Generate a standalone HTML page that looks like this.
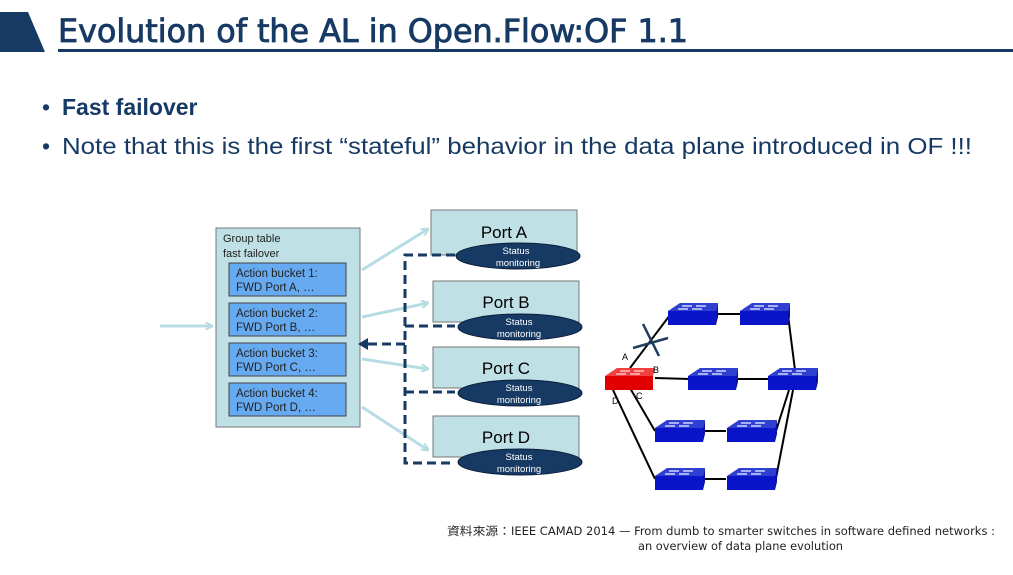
<!DOCTYPE html>
<html><head><meta charset="utf-8"><style>
body{margin:0;width:1013px;height:570px;background:#fff;overflow:hidden;font-family:"Liberation Sans",sans-serif}
</style></head><body>
<svg width="1013" height="570" xmlns="http://www.w3.org/2000/svg" font-family="Liberation Sans, sans-serif">
<defs>
<marker id="la" markerWidth="8" markerHeight="8" refX="7" refY="4" orient="auto" markerUnits="userSpaceOnUse"><path d="M0,0 L8,4 L0,8" fill="none" stroke="#b7dde4" stroke-width="2"/></marker>
<g id="sw"><polygon points="0,8 12,0 50,0 48,8" fill="#2f3fd0"/><rect x="0" y="8" width="48" height="14" fill="#0a14c8"/><polygon points="48,8 50,0 50,14 48,22" fill="#0a10a0"/><path d="M14,3 h10 M28,3 h10 M10,6 h10 M24,6 h10" stroke="#cfd6ff" stroke-width="1.5"/></g>
</defs>
<polygon points="0,12 28,12 45,52 0,52" fill="#173a64"/>
<text x="58" y="42" font-size="32" font-family="DejaVu Sans Condensed, Liberation Sans Narrow, sans-serif" fill="#173a64" stroke="#173a64" stroke-width="0.8" textLength="630" lengthAdjust="spacingAndGlyphs">Evolution of the AL in Open.Flow:OF 1.1</text>
<rect x="58" y="49" width="955" height="3" fill="#173a64"/>
<text x="42" y="115" font-size="23" fill="#173a64">•</text>
<text x="62" y="115" font-size="23" fill="#173a64" font-weight="bold">Fast failover</text>
<text x="42" y="154" font-size="23" fill="#173a64">•</text>
<text x="62" y="154" font-size="23" fill="#173a64" textLength="910" lengthAdjust="spacingAndGlyphs">Note that this is the first “stateful” behavior in the data plane introduced in OF !!!</text>
<rect x="216" y="228" width="144" height="199" fill="#bfe0e4" stroke="#777"/>
<text x="223" y="242" font-size="11" fill="#222">Group table</text>
<text x="223" y="257" font-size="11" fill="#222">fast failover</text>
<g font-size="11.5" fill="#222">
<rect x="229" y="263" width="117" height="33" fill="#66aaf2" stroke="#444"/><text x="236" y="277">Action bucket 1:</text><text x="236" y="291">FWD Port A, …</text>
<rect x="229" y="303" width="117" height="33" fill="#66aaf2" stroke="#444"/><text x="236" y="317">Action bucket 2:</text><text x="236" y="331">FWD Port B, …</text>
<rect x="229" y="343" width="117" height="33" fill="#66aaf2" stroke="#444"/><text x="236" y="357">Action bucket 3:</text><text x="236" y="371">FWD Port C, …</text>
<rect x="229" y="383" width="117" height="33" fill="#66aaf2" stroke="#444"/><text x="236" y="397">Action bucket 4:</text><text x="236" y="411">FWD Port D, …</text>
</g>
<g stroke="#b7dde4" stroke-width="3" fill="none" marker-end="url(#la)">
<line x1="160" y1="326" x2="212" y2="326"/>
<line x1="362" y1="270" x2="428" y2="229"/>
<line x1="362" y1="317" x2="428" y2="303"/>
<line x1="362" y1="359" x2="428" y2="369"/>
<line x1="362" y1="407" x2="428" y2="450"/>
</g>
<g fill="#bfe0e4" stroke="#777">
<rect x="431" y="210" width="146" height="45"/>
<rect x="433" y="281" width="146" height="41"/>
<rect x="433" y="347" width="146" height="41"/>
<rect x="433" y="416" width="146" height="41"/>
</g>
<g font-size="17" fill="#000" text-anchor="middle">
<text x="504" y="238">Port A</text><text x="506" y="308">Port B</text><text x="506" y="374">Port C</text><text x="506" y="443">Port D</text>
</g>
<g stroke="#173a64" stroke-width="3" stroke-dasharray="9,5" fill="none">
<path d="M455,255 H405 V463 H455"/>
<path d="M405,326 H455 M405,392 H455 M405,344 H366"/>
</g>
<polygon points="358,344 368,338 368,350" fill="#173a64"/>
<g fill="#173a64" stroke="#0b1e3a">
<ellipse cx="518" cy="256" rx="62" ry="13"/><ellipse cx="520" cy="327" rx="62" ry="13"/><ellipse cx="520" cy="393" rx="62" ry="13"/><ellipse cx="520" cy="462" rx="62" ry="13"/>
</g>
<g font-size="9.5" fill="#fff" text-anchor="middle">
<text x="516" y="254">Status</text><text x="518" y="266">monitoring</text>
<text x="519" y="325">Status</text><text x="519" y="337">monitoring</text>
<text x="519" y="391">Status</text><text x="519" y="403">monitoring</text>
<text x="519" y="460">Status</text><text x="519" y="472">monitoring</text>
</g>
<g stroke="#000" stroke-width="2" fill="none">
<line x1="630" y1="368" x2="670" y2="315"/>
<line x1="715" y1="314" x2="740" y2="314"/>
<line x1="788" y1="315" x2="795" y2="370"/>
<line x1="655" y1="378" x2="690" y2="379"/>
<line x1="737" y1="379" x2="770" y2="379"/>
<line x1="630" y1="388" x2="655" y2="431"/>
<line x1="613" y1="390" x2="655" y2="479"/>
<line x1="705" y1="431" x2="726" y2="431"/>
<line x1="705" y1="479" x2="726" y2="479"/>
<line x1="776" y1="431" x2="789" y2="390"/>
<line x1="776" y1="478" x2="793" y2="390"/>
</g>
<g transform="translate(668,303)"><use href="#sw"/></g>
<g transform="translate(740,303)"><use href="#sw"/></g>
<g transform="translate(688,368)"><use href="#sw"/></g>
<g transform="translate(768,368)"><use href="#sw"/></g>
<g transform="translate(655,420)"><use href="#sw"/></g>
<g transform="translate(727,420)"><use href="#sw"/></g>
<g transform="translate(655,468)"><use href="#sw"/></g>
<g transform="translate(727,468)"><use href="#sw"/></g>
<polygon points="605,376 617,368 655,368 653,376" fill="#f04040"/><rect x="605" y="376" width="48" height="14" fill="#e00000"/>
<path d="M620,371 h10 M634,371 h10 M616,374 h10 M630,374 h10" stroke="#ffc0c0" stroke-width="1.5"/>
<g stroke="#1f3d5c" stroke-width="2.5"><line x1="643" y1="324" x2="659" y2="356"/><line x1="633" y1="348" x2="668" y2="338"/></g>
<g font-size="9" fill="#000"><text x="622" y="360">A</text><text x="653" y="373">B</text><text x="636" y="399">C</text><text x="612" y="404">D</text></g>
<g font-size="11.5" fill="#222" font-family="DejaVu Sans Condensed, Liberation Sans, Noto Sans CJK TC, sans-serif">
<text x="447" y="535" textLength="548" lengthAdjust="spacingAndGlyphs">資料來源：IEEE CAMAD 2014 — From dumb to smarter switches in software defined networks :</text>
<text x="638" y="550" textLength="205" lengthAdjust="spacingAndGlyphs">an overview of data plane evolution</text>
</g>
</svg>
</body></html>
